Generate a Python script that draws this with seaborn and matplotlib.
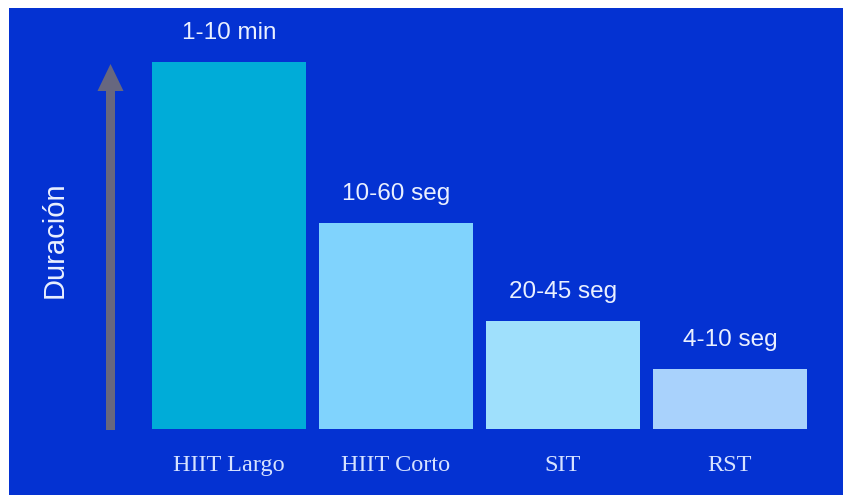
import matplotlib
matplotlib.use("Agg")
import matplotlib.pyplot as plt
import matplotlib.patches as mpatches
from matplotlib.transforms import IdentityTransform
import seaborn as sns
import pandas as pd

# Interval types and their relative duration
categories = ["HIIT Largo", "HIIT Corto", "SIT", "RST"]
duration = [100, 56, 29.5, 16.4]
duration_labels = ["1-10 min", "10-60 seg", "20-45 seg", "4-10 seg"]
bar_colors = ["#00acd8", "#80d3fd", "#9fe0fc", "#a9d2fc"]

BG = "#0432d2"

sns.set_theme(style="white")

df = pd.DataFrame({"tipo": categories, "duracion": duration})

fig = plt.figure(figsize=(8.43, 4.95), dpi=100, facecolor="white")

# Blue panel behind everything (thin white strip on the top and left edges)
fig.patches.append(mpatches.Rectangle((9 / 843, 0), 1 - 9 / 843, 1 - 8 / 495,
                                      transform=fig.transFigure, facecolor=BG,
                                      edgecolor="none", zorder=-5))

ax = fig.add_axes([145.5 / 843, 66 / 495, 668 / 843, 409 / 495])
ax.set_facecolor("none")
ax.set_zorder(2)

sns.barplot(data=df, x="tipo", y="duracion", hue="tipo", palette=bar_colors,
            width=154 / 167, legend=False, ax=ax, saturation=1, linewidth=0)

ax.set_xlim(-0.5, 3.5)
ax.set_ylim(0, 100 * 409 / 367)

for patch, lab in zip(ax.patches, duration_labels):
    ax.annotate(lab, (patch.get_x() + patch.get_width() / 2, patch.get_height()),
                xytext=(0, 13), textcoords="offset points", ha="center", va="bottom",
                fontsize=17.5, color="#eaf0ff", family="Liberation Sans")

ax.set_xlabel("")
ax.set_ylabel("")
ax.set_yticks([])
ax.tick_params(axis="x", length=0, pad=19)
for t in ax.get_xticklabels():
    t.set_fontfamily("Liberation Serif")
    t.set_fontsize(17.5)
    t.set_color("#d6e2ff")
for s in ax.spines.values():
    s.set_visible(False)

# Upward arrow on the left, in pixel coordinates
arrow = mpatches.FancyArrow(110.5, 495 - 430, 0, 430 - 64, width=9, head_width=26,
                            head_length=27, length_includes_head=True,
                            transform=IdentityTransform(), facecolor="#67677f",
                            edgecolor="none", zorder=3)
fig.patches.append(arrow)

fig.text(55 / 843, 1 - 240 / 495, "Duración", rotation=90, ha="center", va="center",
         fontsize=21, color="#eaf0ff", family="Liberation Sans")

fig.savefig("out.png", dpi=100, facecolor=fig.get_facecolor())
